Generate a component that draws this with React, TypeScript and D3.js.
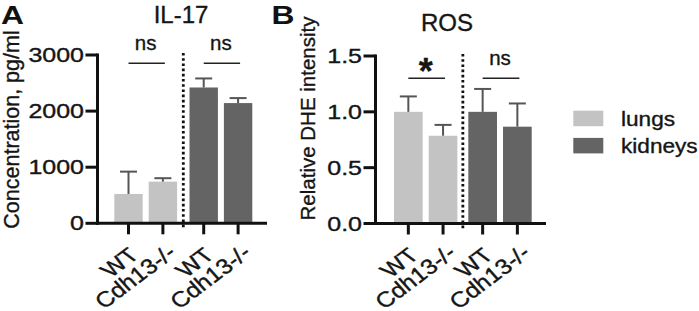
import React from "react";
import * as d3 from "d3";

// ---- data ----
const tissues = ["lungs", "kidneys"];
const genotypes = ["WT", "Cdh13-/-"];
const il17Mean = [523, 743, 2421, 2143]; // lungs WT, lungs Cdh13-/-, kidneys WT, kidneys Cdh13-/-
const il17Err = [398, 61, 161, 89];
const rosMean = [1.0, 0.786, 1.0, 0.867];
const rosErr = [0.138, 0.097, 0.205, 0.208];
const il17Ticks = [0, 1000, 2000, 3000];
const rosTicks = [0, 0.5, 1.0, 1.5];
const il17Sig = ["ns", "ns"];
const rosSig = ["*", "ns"];
const colors = ["#c3c3c3", "#646464"];

const FONT = "'Liberation Sans', Arial, sans-serif";
const TXT = { fill: "#151515", stroke: "#151515", strokeWidth: 0.35 };

type PanelProps = {
  letter: string;
  letterX: number;
  title: string;
  titleX: number;
  titleY: number;
  yLabel: string;
  yLabelX: number;
  yLabelY: number;
  yLabelSize: number;
  axisX: number;
  xEnd: number;
  y0: number;
  yTop: number;
  barRange: [number, number];
  outerPad: number;
  yMax: number;
  ticks: number[];
  fmt: (v: number) => string;
  means: number[];
  errs: number[];
  sig: string[];
  sigLineY: number;
  sigTextY: number;
};

function Panel(p: PanelProps) {
  const x0 = d3.scaleBand<string>().domain(tissues).range(p.barRange).paddingInner(p.outerPad).paddingOuter(0);
  const x1 = d3.scaleBand<string>().domain(genotypes).range([0, x0.bandwidth()]).paddingInner(0.174).paddingOuter(0);
  const y = d3.scaleLinear().domain([0, p.yMax]).range([p.y0, p.yTop]);
  const bars: { t: number; g: number; x: number; w: number; v: number; e: number }[] = [];
  tissues.forEach((t, ti) =>
    genotypes.forEach((g, gi) => {
      const i = ti * 2 + gi;
      bars.push({ t: ti, g: gi, x: (x0(t) as number) + (x1(g) as number), w: x1.bandwidth(), v: p.means[i], e: p.errs[i] });
    })
  );
  const divX = ((x0(tissues[0]) as number) + x0.bandwidth() + (x0(tissues[1]) as number)) / 2;
  const capW = 17;
  return (
    <g>
      <text transform={`translate(${p.letterX},24) scale(1.2,1)`} fontFamily={FONT} fontWeight="bold" fontSize={26.5} fill="#111">
        {p.letter}
      </text>
      <text x={p.titleX} y={p.titleY} fontFamily={FONT} fontSize={24} textAnchor="middle" {...TXT}>
        {p.title}
      </text>
      <text transform={`translate(${p.yLabelX},${p.yLabelY}) rotate(-90)`} fontFamily={FONT} fontSize={p.yLabelSize} textAnchor="middle" {...TXT}>
        {p.yLabel}
      </text>
      {/* bars */}
      {bars.map((b, i) => (
        <g key={i}>
          <rect x={b.x} y={y(b.v)} width={b.w} height={p.y0 - y(b.v)} fill={colors[b.t]} />
          <line x1={b.x + b.w / 2} x2={b.x + b.w / 2} y1={y(b.v)} y2={y(b.v + b.e)} stroke="#555" strokeWidth={2} />
          <line x1={b.x + b.w / 2 - capW / 2} x2={b.x + b.w / 2 + capW / 2} y1={y(b.v + b.e)} y2={y(b.v + b.e)} stroke="#555" strokeWidth={2} />
        </g>
      ))}
      {/* divider */}
      <line x1={divX} x2={divX} y1={p.yTop - 2} y2={p.y0 + 6} stroke="#111" strokeWidth={2.8} strokeDasharray="2.6,2.6" />
      {/* significance */}
      {tissues.map((t, ti) => {
        const a = bars[ti * 2];
        const b = bars[ti * 2 + 1];
        const xa = a.x + a.w / 2;
        const xb = b.x + b.w / 2;
        const cx = (xa + xb) / 2;
        const isStar = p.sig[ti] === "*";
        return (
          <g key={t}>
            <line x1={xa} x2={xb + 2} y1={p.sigLineY} y2={p.sigLineY} stroke="#222" strokeWidth={1.5} />
            <text
              x={cx}
              y={isStar ? p.sigLineY + 6 : p.sigTextY}
              fontFamily={FONT}
              fontWeight={isStar ? "bold" : "normal"}
              fontSize={isStar ? 36 : 20.5}
              textAnchor="middle"
              {...TXT}
            >
              {p.sig[ti]}
            </text>
          </g>
        );
      })}
      {/* y axis */}
      <line x1={p.axisX} x2={p.axisX} y1={p.yTop - 1.5} y2={p.y0 + 1.5} stroke="#111" strokeWidth={3} />
      {p.ticks.map((t) => (
        <g key={t}>
          <line x1={p.axisX - 12} x2={p.axisX} y1={y(t)} y2={y(t)} stroke="#111" strokeWidth={3} />
          <text
            transform={`translate(${p.axisX - 13.5},${y(t) + 7}) scale(1.25,1)`}
            fontFamily={FONT}
            fontSize={20}
            textAnchor="end"
            {...TXT}
          >
            {p.fmt(t)}
          </text>
        </g>
      ))}
      {/* x axis */}
      <line x1={p.axisX - 1.5} x2={p.xEnd} y1={p.y0} y2={p.y0} stroke="#111" strokeWidth={3} />
      {bars.map((b, i) => {
        const cx = b.x + b.w / 2;
        const italic = b.g === 1;
        return (
          <g key={"xt" + i}>
            <line x1={cx} x2={cx} y1={p.y0} y2={p.y0 + 11} stroke="#111" strokeWidth={3} />
            <text
              transform={`translate(${cx + (italic ? 15 : 12)},${p.y0 + (italic ? 31 : 33)}) scale(1.33,1) rotate(-45)`}
              fontFamily={FONT}
              fontSize={20}
              fontStyle={italic ? "italic" : "normal"}
              textAnchor="end"
              {...TXT}
            >
              {genotypes[b.g]}
            </text>
          </g>
        );
      })}
    </g>
  );
}

export default function App() {
  return (
    <div style={{ position: "absolute", left: 0, top: 0 }}>
      <svg width={699} height={311} style={{ display: "block", background: "#fff" }}>
        <Panel
          letter="A"
          letterX={1}
          title="IL-17"
          titleX={181}
          titleY={23}
          yLabel="Concentration, pg/ml"
          yLabelX={18.5}
          yLabelY={129.5}
          yLabelSize={21.5}
          axisX={97.5}
          xEnd={267}
          y0={223.3}
          yTop={55}
          barRange={[114.3, 252.3]}
          outerPad={0.165}
          yMax={3000}
          ticks={il17Ticks}
          fmt={(v) => String(v)}
          means={il17Mean}
          errs={il17Err}
          sig={il17Sig}
          sigLineY={63.3}
          sigTextY={50}
        />
        <Panel
          letter="B"
          letterX={271.5}
          title="ROS"
          titleX={447}
          titleY={31}
          yLabel="Relative DHE intensity"
          yLabelX={314.5}
          yLabelY={118.5}
          yLabelSize={20.5}
          axisX={375.5}
          xEnd={546}
          y0={223.5}
          yTop={56}
          barRange={[394, 531.7]}
          outerPad={0.147}
          yMax={1.5}
          ticks={rosTicks}
          fmt={d3.format(".1f")}
          means={rosMean}
          errs={rosErr}
          sig={rosSig}
          sigLineY={78.3}
          sigTextY={65}
        />
        {/* legend */}
        {tissues.map((t, i) => (
          <g key={t}>
            <rect x={573.3} y={110.7 + i * 27.2} width={30} height={15.5} fill={colors[i]} />
            <text
              transform={`translate(621,${126 + i * 27.3}) scale(1.16,1)`}
              fontFamily={FONT}
              fontSize={19.5}
              {...TXT}
            >
              {t}
            </text>
          </g>
        ))}
      </svg>
    </div>
  );
}
